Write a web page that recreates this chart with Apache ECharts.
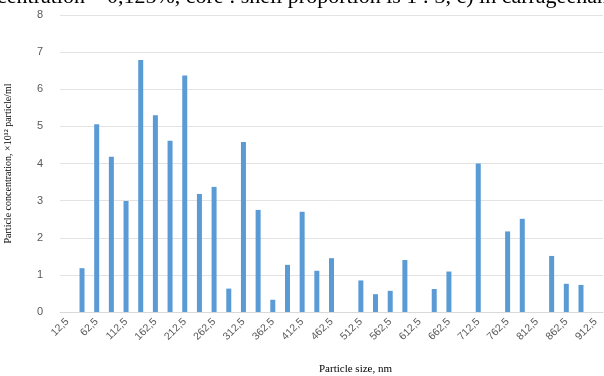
<!DOCTYPE html>
<html>
<head>
<meta charset="utf-8">
<script src="https://cdn.jsdelivr.net/npm/echarts@6/dist/echarts.min.js"></script>
<style>
html,body{margin:0;padding:0;background:#fff;}
#chart{width:604px;height:376px;}
</style>
</head>
<body>
<div id="chart"></div>
<script>
const categories = ["12,5","37,5","62,5","87,5","112,5","137,5","162,5","187,5","212,5","237,5","262,5","287,5","312,5","337,5","362,5","387,5","412,5","437,5","462,5","487,5","512,5","537,5","562,5","587,5","612,5","637,5","662,5","687,5","712,5","737,5","762,5","787,5","812,5","837,5","862,5","887,5","912,5"];
const concentration = [0,1.18,5.06,4.18,2.99,6.79,5.30,4.61,6.37,3.18,3.37,0.63,4.58,2.75,0.33,1.27,2.70,1.11,1.45,0,0.85,0.48,0.57,1.40,0,0.62,1.09,0,4.00,0,2.17,2.51,0,1.51,0.76,0.73,0];
const yTicks = [0,1,2,3,4,5,6,7,8];
const captionText = "centration – 0,125%, core : shell proportion is 1 : 3, c) in carrageenan";
const yAxisTitle = "Particle concentration, ×10¹² particle/ml";
const xAxisTitle = "Particle size, nm";

const chart = echarts.init(document.getElementById('chart'), null, {renderer:'canvas'});
chart.setOption({
  animation:false,
  graphic:[{
    type:'text', left:-3, top:-14,
    style:{text:captionText, font:'22px "Liberation Serif"', fill:'#000'}
  }],
  grid:{left:60,right:1,top:15,bottom:64,containLabel:false,outerBoundsMode:'none'},
  xAxis:{
    type:'category', data:categories,
    name:xAxisTitle, nameLocation:'middle', nameGap:52,
    nameTextStyle:{fontFamily:'Liberation Serif',fontSize:11,color:'#000',padding:[0,0,0,48]},
    axisLine:{lineStyle:{color:'#d9d9d9'}},
    axisTick:{show:false},
    axisLabel:{interval:1,rotate:45,fontFamily:'Liberation Sans',fontSize:10.5,color:'#595959',margin:8}
  },
  yAxis:{
    type:'value', min:yTicks[0], max:yTicks[yTicks.length-1], interval:1,
    name:yAxisTitle, nameLocation:'middle', nameGap:47,
    nameTextStyle:{fontFamily:'Liberation Serif',fontSize:10,color:'#000'},
    axisLine:{show:false}, axisTick:{show:false},
    axisLabel:{fontFamily:'Liberation Sans',fontSize:11,color:'#595959',margin:17},
    splitLine:{lineStyle:{color:'#e3e3e3'}}
  },
  series:[{
    type:'bar', data:concentration, barWidth:5,
    itemStyle:{color:'#5b9bd5'}
  }]
});
</script>
</body>
</html>
